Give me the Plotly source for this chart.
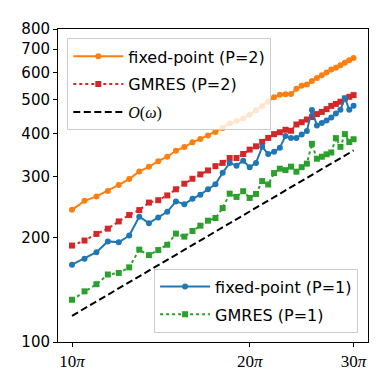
import plotly.graph_objects as go
import math

# omega / pi values (10pi ... 30pi in steps of pi/2)
omega_over_pi = [10, 10.5, 11, 11.5, 12, 12.5, 13, 13.5, 14, 14.5,
                 15, 15.5, 16, 16.5, 17, 17.5, 18, 18.5, 19, 19.5,
                 20, 20.5, 21, 21.5, 22, 22.5, 23, 23.5, 24, 24.5,
                 25, 25.5, 26, 26.5, 27, 27.5, 28, 28.5, 29, 29.5, 30]

fixed_point_p2 = [240.6, 255.4, 263.0, 272.8, 283.8, 295.2, 310.6, 320.2, 332.4, 342.4,
                  356.2, 365.2, 376.7, 385.5, 394.5, 403.6, 414.5, 426.9, 434.0, 441.2,
                  452.9, 466.6, 479.0, 493.4, 508.3, 516.7, 518.4, 519.1, 537.6, 548.3,
                  553.7, 566.7, 578.0, 588.4, 599.3, 611.3, 618.5, 628.4, 639.3, 649.5, 659.5]

gmres_p2 = [189.8, 196.2, 205.0, 212.3, 222.8, 232.6, 240.2, 252.5, 256.5, 264.8,
            275.8, 286.2, 295.8, 304.5, 312.6, 321.6, 328.7, 339.6, 339.6, 348.7,
            359.0, 366.9, 378.0, 388.0, 397.9, 402.9, 409.6, 406.9, 424.2, 430.7,
            438.4, 445.6, 454.5, 461.2, 469.7, 480.0, 486.4, 493.4, 504.2, 509.9, 515.6]

fixed_point_p1 = [167.2, 174.0, 181.6, 195.1, 194.0, 202.8, 229.8, 220.2, 228.7, 237.5,
                  254.5, 249.8, 258.8, 266.2, 275.8, 285.0, 307.7, 328.7, 322.7, 333.4,
                  319.5, 328.7, 365.7, 348.7, 353.9, 363.3, 393.2, 387.5, 387.5, 397.1,
                  406.3, 467.2, 421.4, 428.3, 435.5, 444.2, 456.0, 468.2, 505.0, 468.2, 480.6]

gmres_p1 = [132.4, 140.0, 146.8, 156.6, 158.2, 164.2, 184.7, 178.1, 184.2, 190.8,
            205.4, 201.4, 209.1, 216.6, 223.9, 227.9, 243.4, 267.9, 262.2, 272.3,
            260.4, 267.4, 291.3, 284.7, 307.2, 316.3, 313.2, 320.6, 310.1, 319.5,
            327.0, 373.1, 337.9, 342.4, 348.0, 352.2, 387.5, 365.7, 397.9, 377.5, 384.6]

# reference O(omega) line endpoints
ref_omega_over_pi = [10, 30]
ref_values = [119, 357]

x_tick_over_pi = [10, 20, 30]
x_tick_labels = ["10<i>π</i>", "20<i>π</i>", "30<i>π</i>"]
y_tick_vals = [100, 200, 300, 400, 500, 600, 700, 800]
y_tick_labels = ["100", "200", "300", "400", "500", "600", "700", "800"]

omega = [v * math.pi for v in omega_over_pi]
ref_omega = [v * math.pi for v in ref_omega_over_pi]

fig = go.Figure()
fig.add_trace(go.Scatter(x=omega, y=fixed_point_p2, mode="lines+markers",
                         name="fixed-point (P=2)", legend="legend", legendgroup="a",
                         line=dict(color="#ff7f0e", width=2),
                         marker=dict(symbol="circle", size=6, color="#ff7f0e")))
fig.add_trace(go.Scatter(x=omega, y=gmres_p2, mode="lines+markers",
                         name="GMRES (P=2)", legend="legend", legendgroup="b",
                         line=dict(color="#d62728", width=2, dash="dot"),
                         marker=dict(symbol="square", size=6, color="#d62728")))
fig.add_trace(go.Scatter(x=ref_omega, y=ref_values, mode="lines",
                         name='<span style="font-family:Liberation Serif"><i>O</i>(<i>ω</i>)</span>',
                         legend="legend", legendgroup="c",
                         line=dict(color="black", width=2, dash="7px,3.5px")))
fig.add_trace(go.Scatter(x=omega, y=fixed_point_p1, mode="lines+markers",
                         name="fixed-point (P=1)", legend="legend2", legendgroup="d",
                         line=dict(color="#1f77b4", width=2),
                         marker=dict(symbol="circle", size=6, color="#1f77b4")))
fig.add_trace(go.Scatter(x=omega, y=gmres_p1, mode="lines+markers",
                         name="GMRES (P=1)", legend="legend2", legendgroup="e",
                         line=dict(color="#2ca02c", width=2, dash="dot"),
                         marker=dict(symbol="square", size=6, color="#2ca02c")))

legend_common = dict(bgcolor="rgba(255,255,255,0.8)", bordercolor="#cccccc", borderwidth=1,
                     font=dict(family="DejaVu Sans", size=16, color="black"),
                     traceorder="grouped", tracegroupgap=4, itemwidth=50)

fig.update_layout(
    width=381, height=381, autosize=False,
    margin=dict(l=50, r=21, t=19, b=47),
    paper_bgcolor="white", plot_bgcolor="white",
    showlegend=True,
    legend=dict(x=0.03, y=0.97, xanchor="left", yanchor="top", **legend_common),
    legend2=dict(x=0.968, y=0.03, xanchor="right", yanchor="bottom", **legend_common),
    xaxis=dict(type="log", range=[1.4734, 1.9987],
               tickvals=[v * math.pi for v in x_tick_over_pi], ticktext=x_tick_labels,
               tickfont=dict(family="Liberation Serif", size=17, color="black"),
               ticks="outside", ticklen=4, tickcolor="black",
               showline=True, linecolor="black", linewidth=1, mirror=True,
               showgrid=False, zeroline=False),
    yaxis=dict(type="log", range=[2, math.log10(800)],
               tickvals=y_tick_vals, ticktext=y_tick_labels,
               tickfont=dict(family="DejaVu Sans", size=15, color="black"),
               ticks="outside", ticklen=4, tickcolor="black",
               showline=True, linecolor="black", linewidth=1, mirror=True,
               showgrid=False, zeroline=False),
)

fig.write_html("out.html")
